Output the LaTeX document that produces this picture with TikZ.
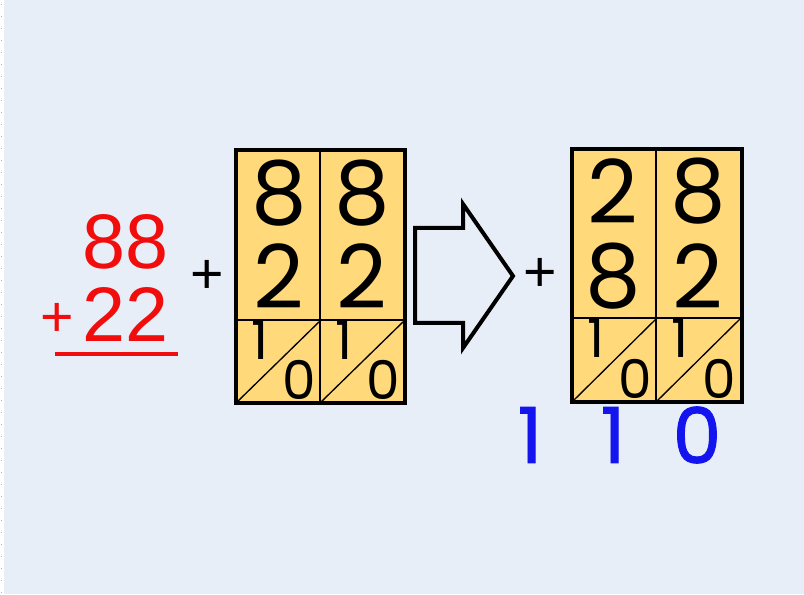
\documentclass[tikz,border=0pt]{standalone}
\usepackage{fontspec}
\setmainfont{Poppins}
\newfontfamily\sumfont{Liberation Sans}
\newfontfamily\resultfont{Poppins}[FakeBold=1.2]
\usetikzlibrary{positioning}
\definecolor{bgblue}{HTML}{E8EEF8}
\definecolor{cellyellow}{HTML}{FFD97A}
\definecolor{sumred}{HTML}{F20D0D}
\definecolor{sumblue}{HTML}{1414EE}

\tikzset{
  bigdigit/.style={inner sep=0pt, font=\fontsize{66}{66}\selectfont},
  smalldigit/.style={inner sep=0pt, font=\fontsize{40}{40}\selectfont},
  reddigit/.style={inner sep=0pt, text=sumred, font=\sumfont\fontsize{58}{58}\selectfont},
  bluedigit/.style={inner sep=0pt, text=sumblue, font=\resultfont\fontsize{58}{58}\selectfont},
  plussign/.style={inner sep=0pt, font=\sumfont\fontsize{43}{43}\selectfont}
}

\begin{document}
\begin{tikzpicture}[x=0.75pt,y=-0.75pt]
  \fill[bgblue] (0,0) rectangle (804,594);
  \fill[white] (0,0) rectangle (4,594);
  \draw[gray!60, dash pattern=on 0.75pt off 8.25pt] (1,4) -- (1,594);
  \useasboundingbox (0,0) rectangle (804,594);

  %% red written sum
  \node[reddigit] (R88) at (126,242) {88};
  \node[reddigit] (R22) at (126,315) {22};
  \node[plussign, text=sumred] (Rplus) at (57,320) {+};
  \draw[sumred, line width=2.4pt] (55,354) -- (178,354);

  %% left card: 88 + 22
  \node[plussign] (Lplus) at (207,277) {+};
  \draw[line width=2.6pt, fill=cellyellow] (236,150) rectangle (405,403);
  \draw[line width=1.8pt] (320,150) -- (320,403);
  \draw[line width=1.5pt] (236,320) -- (405,320);
  \foreach \x in {236,320}
    \draw[line width=1pt] (\x,403) -- ++(85,-83);
  \node[bigdigit] (LA8) at (279,193) {8};
  \node[bigdigit] (LB8) at (362,193) {8};
  \node[bigdigit] (LA2) at (279,276) {2};
  \node[bigdigit] (LB2) at (362,276) {2};
  \node[smalldigit] (LA1) at (260,340) {1};
  \node[smalldigit] (LA0) at (299,380) {0};
  \node[smalldigit] (LB1) at (344,340) {1};
  \node[smalldigit] (LB0) at (383,380) {0};

  %% block arrow
  \draw[line width=3pt, line join=miter] (415,228) -- (463,228) -- (463,204)
    -- (513,276) -- (463,348) -- (463,323) -- (415,323) -- cycle;

  %% right card: 28 + 82
  \node[plussign] (Rtplus) at (540,275) {+};
  \draw[line width=2.6pt, fill=cellyellow] (572,149) rectangle (742,402);
  \draw[line width=1.8pt] (656,149) -- (656,402);
  \draw[line width=1.5pt] (572,318) -- (742,318);
  \foreach \x in {572,656}
    \draw[line width=1pt] (\x,402) -- ++(85,-84);
  \node[bigdigit] (RA2) at (613,191) {2};
  \node[bigdigit] (RB8) at (698,191) {8};
  \node[bigdigit] (RA8) at (613,276) {8};
  \node[bigdigit] (RB2) at (698,276) {2};
  \node[smalldigit] (RA1) at (596,338) {1};
  \node[smalldigit] (RA0) at (635,379) {0};
  \node[smalldigit] (RB1) at (680,338) {1};
  \node[smalldigit] (RB0) at (719,379) {0};

  %% blue result
  \node[bluedigit] (S1) at (530,435) {1};
  \node[bluedigit] (S2) at (613,435) {1};
  \node[bluedigit] (S3) at (697,435) {0};
\end{tikzpicture}
\end{document}
